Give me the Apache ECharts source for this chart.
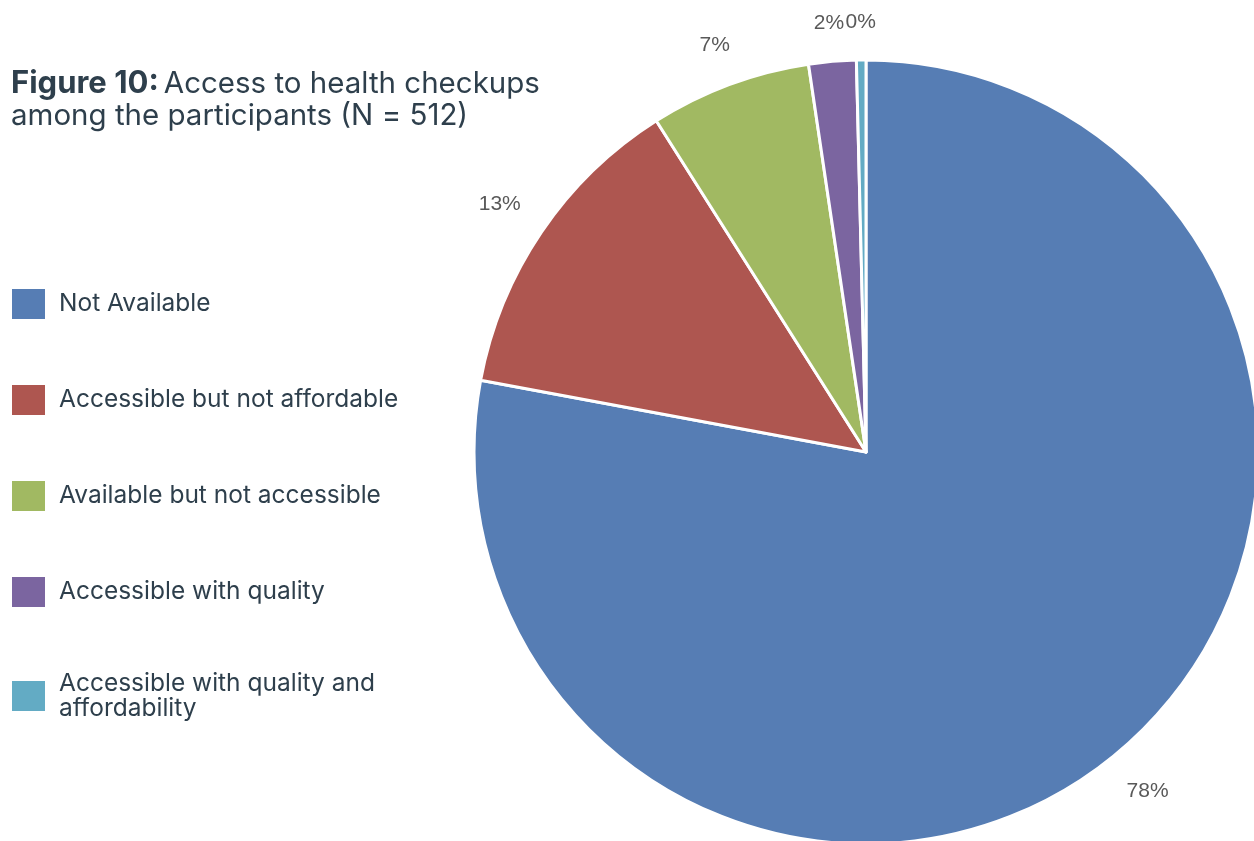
<!DOCTYPE html>
<html>
<head>
<meta charset="utf-8">
<script src="https://cdn.jsdelivr.net/npm/echarts@6/dist/echarts.min.js"></script>
<style>
  html, body { margin: 0; padding: 0; background: #ffffff; }
  #chart { width: 1254px; height: 841px; }
</style>
</head>
<body>
<div id="chart"></div>
<script>
// Responses on access to health checkups (N = 512)
const categories = [
  'Not Available',
  'Accessible but not affordable',
  'Available but not accessible',
  'Accessible with quality',
  'Accessible with quality and affordability'
];
const counts = [399, 67, 34, 10, 2];
const sliceColors = ['#567db4', '#ae5650', '#a1b962', '#7b65a0', '#63abc4'];

const textColor = '#2e3f4c';
const total = counts.reduce((a, b) => a + b, 0);

// pie geometry
const pieCenter = [866, 452];
const pieRadius = 392;
const labelGap = 27;   // space between the rim and the nearest side of a value label

// mid-angle of each slice, clockwise from 12 o'clock, in radians
const midAngles = [];
counts.reduce((cum, v) => {
  midAngles.push((cum + v / 2) / total * Math.PI * 2);
  return cum + v;
}, 0);

const chart = echarts.init(document.getElementById('chart'));

chart.setOption({
  animation: false,
  backgroundColor: '#ffffff',
  color: sliceColors,
  title: {
    left: 11,
    top: 68,
    padding: 0,
    text: '{b|Figure 10:} {r|Access to health checkups}\n{r|among the participants (N = 512)}',
    textStyle: {
      rich: {
        b: { fontFamily: 'Inter', fontWeight: 'bold', fontSize: 31, color: textColor, lineHeight: 32 },
        r: { fontFamily: 'Inter', fontWeight: 'normal', fontSize: 29.5, color: textColor, lineHeight: 32 }
      }
    }
  },
  legend: {
    orient: 'vertical',
    left: 10,
    top: 287,
    padding: 0,
    icon: 'rect',
    itemWidth: 35,
    itemHeight: 32,
    itemGap: 62,
    data: categories,
    formatter: name => name === categories[4] ? 'Accessible with quality and\naffordability' : name,
    textStyle: {
      fontFamily: 'Inter',
      fontSize: 24.5,
      lineHeight: 25,
      color: textColor,
      padding: [0, 0, 0, 8]
    }
  },
  series: [{
    type: 'pie',
    center: pieCenter,
    radius: pieRadius,
    startAngle: 90,
    clockwise: true,
    avoidLabelOverlap: false,
    itemStyle: { borderColor: '#ffffff', borderWidth: 3 },
    label: {
      show: true,
      position: 'outside',
      fontFamily: 'Liberation Sans',
      fontSize: 21,
      color: '#595959',
      formatter: p => Math.round(p.value / total * 100) + '%'
    },
    labelLine: { show: false, length: 20, length2: 0 },
    // place each value label along its slice's mid-angle, a fixed gap outside the rim
    labelLayout: params => {
      const a = midAngles[params.dataIndex];
      const ux = Math.sin(a), uy = -Math.cos(a);
      const r = params.labelRect;
      const d = pieRadius + labelGap + (r.width / 2) * Math.abs(ux) + (r.height / 2) * Math.abs(uy);
      return {
        x: pieCenter[0] + ux * d,
        y: pieCenter[1] + uy * d,
        align: 'center',
        verticalAlign: 'middle'
      };
    },
    emphasis: { disabled: true },
    data: categories.map((name, i) => ({ name, value: counts[i] }))
  }]
});
</script>
</body>
</html>
